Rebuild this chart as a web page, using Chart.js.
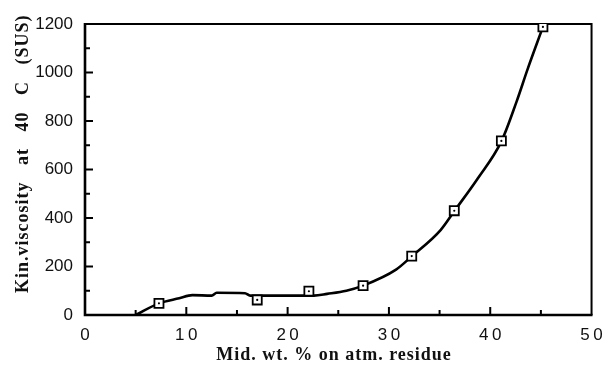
<!DOCTYPE html>
<html>
<head>
<meta charset="utf-8">
<script src="https://cdn.jsdelivr.net/npm/chart.js@4.4.1/dist/chart.umd.min.js"></script>
<style>
  html, body { margin: 0; padding: 0; background: #fff; }
  #wrap { width: 611px; height: 365px; }
</style>
</head>
<body>
<div id="wrap"><canvas id="c" width="611" height="365"></canvas></div>
<script>
// ---- data ----
const markerX = [7.3, 17.0, 22.1, 27.45, 32.25, 36.45, 41.1, 45.2];
const markerY = [48, 62, 98, 121, 243, 430, 718, 1188];

const curveX = [5.0, 7.3, 9.3, 10.6, 12.5, 13.0, 15.8, 16.3, 22.6, 23.9, 25.8, 27.45, 30.7, 32.2, 35.1, 36.45, 38.8, 41.1, 42.6, 43.7, 45.2];
const curveY = [0, 48, 69, 82, 80, 92, 90, 80, 80, 87, 100, 121, 187, 240, 350, 428, 565, 716, 880, 1015, 1188];

const xTickLabels = ['0', '10', '20', '30', '40', '50'];
const yTickLabels = ['0', '200', '400', '600', '800', '1000', '1200'];

const xTitle = 'Mid. wt. % on atm. residue';
const yTitle = 'Kin.viscosity   at   40   C   (SUS)';

// ---- build ----
const curvePts = curveX.map((x, i) => ({ x: x, y: curveY[i] }));
const markerPts = markerX.map((x, i) => ({ x: x, y: markerY[i] }));

const decor = {
  id: 'decor',
  afterLayout(chart) {
    const s = chart.scales.x;
    if (!s._spaced) {
      const orig = s.drawLabels.bind(s);
      s.drawLabels = function (ca) {
        const c = this.ctx;
        c.save();
        c.letterSpacing = '3.5px';
        c.translate(1.75, 0);
        orig(ca);
        c.restore();
      };
      s._spaced = true;
    }
  },
  beforeDatasetsDraw(chart) {
    const { ctx, chartArea: a, scales: { x, y } } = chart;
    ctx.save();
    ctx.strokeStyle = '#000';
    ctx.lineCap = 'butt';
    // frame
    ctx.lineWidth = 2.6;
    ctx.beginPath();
    ctx.moveTo(a.left, a.top - 1); ctx.lineTo(a.left, a.bottom + 1.3);
    ctx.moveTo(a.left - 1.3, a.bottom); ctx.lineTo(a.right + 1, a.bottom);
    ctx.stroke();
    ctx.lineWidth = 2;
    ctx.beginPath();
    ctx.moveTo(a.left, a.top); ctx.lineTo(a.right, a.top);
    ctx.moveTo(a.right, a.top - 1); ctx.lineTo(a.right, a.bottom);
    ctx.stroke();
    // inward ticks
    ctx.lineWidth = 2;
    ctx.beginPath();
    const xt = x.ticks.map(t => t.value);
    for (let i = 0; i < xt.length; i++) {
      const v = xt[i];
      if (i > 0 && i < xt.length - 1) {
        const px = x.getPixelForValue(v);
        ctx.moveTo(px, a.bottom); ctx.lineTo(px, a.bottom - 8);
      }
      if (i < xt.length - 1) {
        const pm = x.getPixelForValue((v + xt[i + 1]) / 2);
        ctx.moveTo(pm, a.bottom); ctx.lineTo(pm, a.bottom - 5);
      }
    }
    const yt = y.ticks.map(t => t.value);
    for (let i = 0; i < yt.length; i++) {
      const v = yt[i];
      if (i > 0 && i < yt.length - 1) {
        const py = y.getPixelForValue(v);
        ctx.moveTo(a.left, py); ctx.lineTo(a.left + 8, py);
      }
      if (i < yt.length - 1) {
        const pm = y.getPixelForValue((v + yt[i + 1]) / 2);
        ctx.moveTo(a.left, pm); ctx.lineTo(a.left + 5, pm);
      }
    }
    ctx.stroke();
    ctx.restore();
  },
  afterDraw(chart) {
    const { ctx } = chart;
    ctx.save();
    ctx.fillStyle = '#111';
    ctx.font = 'bold 18px "Liberation Serif", "Times New Roman", serif';
    ctx.letterSpacing = '1px';
    ctx.textAlign = 'center';
    ctx.textBaseline = 'alphabetic';
    ctx.fillText(xTitle, 334, 360);
    ctx.translate(28, 293);
    ctx.rotate(-Math.PI / 2);
    ctx.textAlign = 'left';
    ctx.fillText(yTitle, 0, 0);
    ctx.restore();
  }
};

new Chart(document.getElementById('c'), {
  type: 'line',
  data: {
    datasets: [
      {
        label: 'curve',
        data: curvePts,
        borderColor: '#000',
        borderWidth: 2.6,
        pointRadius: 0,
        cubicInterpolationMode: 'monotone',
        fill: false,
        order: 3
      },
      {
        label: 'data',
        data: markerPts,
        showLine: false,
        pointStyle: 'rect',
        pointRadius: 6.4,
        pointBorderWidth: 1.8,
        pointBorderColor: '#000',
        pointBackgroundColor: '#fff',
        order: 2
      },
      {
        label: 'dots',
        data: markerPts,
        showLine: false,
        pointStyle: 'circle',
        pointRadius: 1.1,
        pointBorderWidth: 0,
        pointBackgroundColor: '#000',
        order: 1
      }
    ]
  },
  options: {
    responsive: false,
    animation: false,
    events: [],
    layout: { padding: { left: 0, right: 12.5, top: 24, bottom: 0 } },
    plugins: { legend: { display: false }, tooltip: { enabled: false } },
    scales: {
      x: {
        type: 'linear',
        min: 0, max: 50,
        afterFit(s) { s.height = 50; },
        afterBuildTicks(s) { s.ticks = xTickLabels.map(t => ({ value: Number(t) })); },
        grid: { display: false, drawTicks: false },
        border: { display: false },
        ticks: {
          padding: 10,
          color: '#111',
          font: { family: '"Liberation Sans", Arial, sans-serif', size: 17 },
          callback: (v) => String(v),
          maxRotation: 0
        }
      },
      y: {
        type: 'linear',
        min: 0, max: 1200,
        afterFit(s) { s.width = 85; },
        afterBuildTicks(s) { s.ticks = yTickLabels.map(t => ({ value: Number(t) })); },
        grid: { display: false, drawTicks: false },
        border: { display: false },
        ticks: {
          padding: 12,
          color: '#111',
          font: { family: '"Liberation Sans", Arial, sans-serif', size: 17 },
          callback: (v) => String(v)
        }
      }
    }
  },
  plugins: [decor]
});
</script>
</body>
</html>
